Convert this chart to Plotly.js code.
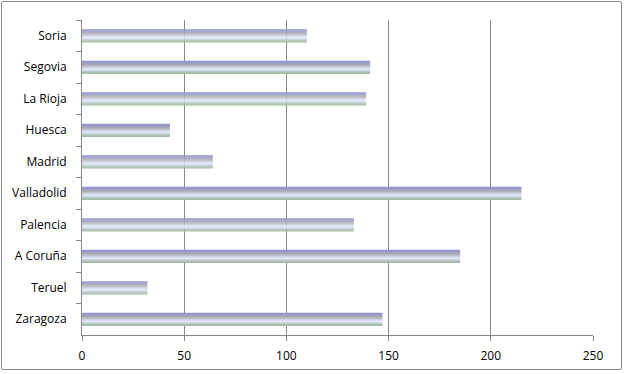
<!DOCTYPE html>
<html>
<head>
<meta charset="utf-8">
<script src="https://cdn.plot.ly/plotly-3.0.1.min.js"></script>
<style>
html,body{margin:0;padding:0;background:#fff;}
#wrap{position:relative;width:624px;height:374px;}
#chart{width:624px;height:374px;}
#frame{position:absolute;left:1px;top:1px;width:619px;height:367px;border:1px solid #8c8c8c;border-radius:2px;pointer-events:none;}
</style>
</head>
<body>
<div id="wrap"><div id="chart"></div><div id="frame"></div></div>
<script>
const categories = ["Soria","Segovia","La Rioja","Huesca","Madrid","Valladolid","Palencia","A Coruña","Teruel","Zaragoza"];
const values = [110, 141, 139, 43, 64, 215, 133, 185, 32, 147];
const xTicks = [0, 50, 100, 150, 200, 250];

// horizontal stripe colours of the bar fill, top to bottom
const stripeColors = ["#9595CF","#9898CA","#9E9EC2","#A6A6BB","#AFAFB8","#BBBEC6","#C8CFDC","#D6DEEE","#E2E9F8","#D2DCEA","#BFCBD2","#AFC2B3","#A3BBA3"];

const n = stripeColors.length;
const unit = 1 / 31.5;
const traces = stripeColors.map((c, i) => ({
  type: 'bar',
  orientation: 'h',
  y: categories,
  x: values,
  base: 0,
  width: unit * 1.15,
  offset: -n / 2 * unit + i * unit,
  marker: {color: c, line: {width: 0}},
  hoverinfo: 'x+y',
  showlegend: false
}));

const layout = {
  width: 624, height: 374,
  margin: {l: 82, r: 31, t: 20, b: 39},
  paper_bgcolor: '#fff', plot_bgcolor: '#fff',
  barmode: 'overlay',
  font: {family: 'Open Sans, sans-serif', size: 12, color: '#000'},
  xaxis: {
    range: [0, 250], tickvals: xTicks, ticktext: xTicks.map(String),
    showgrid: true, gridcolor: '#878787', gridwidth: 1,
    zeroline: false, showline: true, linecolor: '#878787', linewidth: 1,
    ticks: 'outside', ticklen: 5, tickcolor: '#878787',
    ticklabelstandoff: 5,
    tickfont: {size: 12, family: 'Open Sans, sans-serif'}, fixedrange: true
  },
  yaxis: {
    type: 'category', categoryorder: 'array', categoryarray: categories,
    autorange: 'reversed',
    showgrid: false, zeroline: false, showline: true, linecolor: '#878787', linewidth: 1,
    ticks: 'outside', ticklen: 5, tickcolor: '#878787', tickson: 'boundaries',
    ticklabelstandoff: 12,
    tickfont: {size: 12, family: 'Open Sans, sans-serif'}, fixedrange: true
  }
};

Plotly.newPlot('chart', traces, layout, {displayModeBar: false, staticPlot: true});
</script>
</body>
</html>
